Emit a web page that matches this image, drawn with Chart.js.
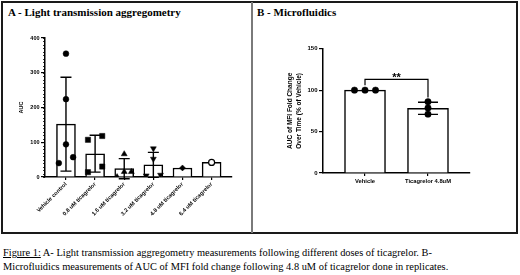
<!DOCTYPE html>
<html>
<head>
<meta charset="utf-8">
<script src="https://cdn.jsdelivr.net/npm/chart.js@4/dist/chart.umd.min.js"></script>
<style>
  body { margin: 0; background: #fff; width: 520px; height: 275px; overflow: hidden; position: relative; }
  #frame { position: absolute; left: 1px; top: 1px; width: 517px; height: 233px; border: 2px solid #1a1a1a; box-sizing: border-box; }
  #divider { position: absolute; left: 251px; top: 2px; width: 2px; height: 231px; background: #7a7a7a; }
  .ptitle { position: absolute; top: 6px; font: bold 11px "Liberation Serif", "Times New Roman", serif; color: #000; white-space: nowrap; }
  #chartA { position: absolute; left: 4px; top: 24px; }
  #chartB { position: absolute; left: 256px; top: 24px; }
  #caption { position: absolute; left: 3px; top: 246px; font: 10.4px/14px "Liberation Serif", "Times New Roman", serif; color: #000; white-space: nowrap; }
  #caption u { text-decoration: underline; }
</style>
</head>
<body>
<div id="frame"></div>
<div id="divider"></div>
<div class="ptitle" style="left:8px">A - Light transmission aggregometry</div>
<div class="ptitle" style="left:257px">B - Microfluidics</div>
<canvas id="chartA" width="246" height="208"></canvas>
<canvas id="chartB" width="258" height="208"></canvas>
<div id="caption"><u>Figure 1:</u> A- Light transmission aggregometry measurements following different doses of ticagrelor. B-<br>Microfluidics measurements of AUC of MFI fold change following 4.8 uM of ticagrelor done in replicates.</div>

<script>
// ---- panel A data (light transmission aggregometry, AUC)
const doseLabels = ['Vehicle control', '0.8 uM ticagrelor', '1.6 uM ticagrelor', '3.2 uM ticagrelor', '4.8 uM ticagrelor', '6.4 uM ticagrelor'];
const ltaMeans = [152, 67, 24, 35, 26, 42];
const ltaSD = [135, 53, 29, 36, 0, 0];
const ltaPoints = [
    [355, 224, 94, 57, 40],
    [107, 118, 30, 14],
    [66, 15, 15, 0],
    [82, 52, 4, 6],
    [26],
    [42]
];
const ltaTicks = [0, 100, 200, 300, 400];

// ---- panel B data (microfluidics, % of vehicle)
const flowLabels = ['Vehicle', 'Ticagrelor 4.8uM'];
const flowMeans = [100, 78];
const flowSD = [0, 7.3];
const flowPoints = [
    [100, 100, 100],
    [86, 78.5, 71]
];
const flowTicks = [0, 50, 100, 150];
const sigText = '**';
const sigBracket = [113, 106, 91];   // bracket top, left leg end, right leg end

// marker look per group in panel A
const ltaMarkers = [
    {pointStyle: 'circle', pointRadius: 2.9, fill: '#000', rot: 0},
    {pointStyle: 'rect', pointRadius: 3.7, fill: '#000', rot: 0},
    {pointStyle: 'triangle', pointRadius: 3.4, fill: '#000', rot: 0},
    {pointStyle: 'triangle', pointRadius: 3.4, fill: '#000', rot: 180},
    {pointStyle: 'rectRot', pointRadius: 3.0, fill: '#000', rot: 0},
    {pointStyle: 'circle', pointRadius: 3.0, fill: '#fff', rot: 0}
];

const tickFont = {family: 'Liberation Sans, Arial, sans-serif', weight: 'bold'};

// spread points that would overlap sideways, like a scatter dot plot
function spreadX(values, center, near, step) {
    const order = values.map((v, i) => i).sort((a, b) => values[a] - values[b]);
    const xs = new Array(values.length);
    let group = [];
    const flush = () => {
        const n = group.length;
        group.forEach((idx, k) => {
            xs[idx] = center + (2 * k - (n - 1)) * step / (n % 2 === 0 ? 1 : 2);
        });
        group = [];
    };
    order.forEach(i => {
        if (group.length && values[i] - values[group[group.length - 1]] > near) flush();
        group.push(i);
    });
    flush();
    return xs;
}

// error bars (mean +/- SD) drawn right after the bar dataset
const errorBars = {
    id: 'errorBars',
    afterDatasetDraw(chart, args, opts) {
        if (args.index !== 0) return;
        const {ctx, scales: {x, y}} = chart;
        ctx.save();
        ctx.strokeStyle = '#000';
        ctx.lineWidth = opts.lineWidth;
        opts.means.forEach((m, i) => {
            const sd = opts.sd[i];
            if (!sd) return;
            const px = x.getPixelForValue(i);
            const top = y.getPixelForValue(m + sd);
            const bot = y.getPixelForValue(m - sd);
            ctx.beginPath();
            ctx.moveTo(px, top); ctx.lineTo(px, bot);
            ctx.moveTo(px - opts.cap, top); ctx.lineTo(px + opts.cap, top);
            ctx.moveTo(px - opts.cap, bot); ctx.lineTo(px + opts.cap, bot);
            ctx.stroke();
        });
        ctx.restore();
    }
};

// small minor ticks on the left axis of panel A
const minorTicks = {
    id: 'minorTicks',
    afterDraw(chart, args, opts) {
        if (!opts.step) return;
        const {ctx, scales: {y}} = chart;
        const left = chart.chartArea.left;
        ctx.save();
        ctx.strokeStyle = '#000';
        ctx.lineWidth = 0.8;
        ctx.beginPath();
        for (let v = y.min; v <= y.max; v += opts.step) {
            const py = Math.round(y.getPixelForValue(v)) + 0.5;
            ctx.moveTo(left - opts.len, py);
            ctx.lineTo(left, py);
        }
        ctx.stroke();
        ctx.restore();
    }
};

// significance bracket for panel B
const sigPlugin = {
    id: 'sig',
    afterDraw(chart, args, opts) {
        if (!opts.text) return;
        const {ctx, scales: {x, y}} = chart;
        const x0 = x.getPixelForValue(0), x1 = x.getPixelForValue(1);
        const yt = y.getPixelForValue(opts.bracket[0]);
        ctx.save();
        ctx.strokeStyle = '#000';
        ctx.lineWidth = 1.2;
        ctx.beginPath();
        ctx.moveTo(x0, y.getPixelForValue(opts.bracket[1]));
        ctx.lineTo(x0, yt);
        ctx.lineTo(x1, yt);
        ctx.lineTo(x1, y.getPixelForValue(opts.bracket[2]));
        ctx.stroke();
        ctx.fillStyle = '#000';
        ctx.font = 'bold 11px Liberation Sans, Arial, sans-serif';
        ctx.textAlign = 'center';
        ctx.textBaseline = 'alphabetic';
        ctx.fillText(opts.text, (x0 + x1) / 2, yt + 2);
        ctx.restore();
    }
};

function axisX(labels, min, max, fontSize, rotation, pad, height) {
    return {
        type: 'linear',
        min: min,
        max: max,
        offset: false,
        afterBuildTicks: s => { s.ticks = labels.map((l, i) => ({value: i})); },
        afterFit: s => { s.height = height; },
        grid: {display: true, drawOnChartArea: false, offset: false, color: '#000', lineWidth: 1.2, tickLength: 3},
        border: {display: true, color: '#000', width: 1.5},
        ticks: {
            autoSkip: false,
            minRotation: rotation,
            maxRotation: rotation,
            padding: pad,
            color: '#000',
            font: Object.assign({size: fontSize}, tickFont),
            callback: v => labels[v]
        }
    };
}

function axisY(tickVals, width, fontSize, title, titleSize, titlePad, lineHeight) {
    return {
        min: tickVals[0],
        max: tickVals[tickVals.length - 1],
        afterBuildTicks: s => { s.ticks = tickVals.map(v => ({value: v})); },
        afterFit: s => { s.width = width; },
        grid: {display: true, drawOnChartArea: false, color: '#000', lineWidth: 1.2, tickLength: 4},
        border: {display: true, color: '#000', width: 1.5},
        ticks: {padding: 1.5, color: '#000', font: Object.assign({size: fontSize}, tickFont)},
        title: {
            display: true,
            text: title,
            color: '#000',
            padding: {top: titlePad, bottom: 0},
            font: Object.assign({size: titleSize, lineHeight: lineHeight}, tickFont)
        }
    };
}

// ---- panel A
const ltaScatter = ltaPoints.map((vals, i) => {
    const xs = spreadX(vals, i, 20, 0.245);
    const mk = ltaMarkers[i];
    return {
        type: 'scatter',
        order: 1,
        data: vals.map((v, k) => ({x: xs[k], y: v})),
        pointStyle: mk.pointStyle,
        pointRadius: mk.pointRadius,
        pointRotation: mk.rot,
        backgroundColor: mk.fill,
        borderColor: '#000',
        borderWidth: mk.fill === '#fff' ? 1.2 : 0.5
    };
});

new Chart(document.getElementById('chartA'), {
    type: 'bar',
    data: {
        datasets: [{
            order: 2,
            data: ltaMeans.map((v, i) => ({x: i, y: v})),
            backgroundColor: '#fff',
            borderColor: '#000',
            borderWidth: 1.5,
            barThickness: 19
        }].concat(ltaScatter)
    },
    options: {
        responsive: false,
        animation: false,
        events: [],
        layout: {padding: {left: 0, top: 14, right: 18, bottom: 0}},
        plugins: {
            legend: {display: false},
            tooltip: {enabled: false},
            errorBars: {means: ltaMeans, sd: ltaSD, cap: 5.5, lineWidth: 1.4},
            minorTicks: {step: 10, len: 2},
            sig: {}
        },
        scales: {
            x: axisX(doseLabels, -0.72, 5.7, 5.6, 45, 1, 55),
            y: axisY(ltaTicks, 41, 5.5, 'AUC', 5.5, 14, 1.2)
        }
    },
    plugins: [errorBars, minorTicks, sigPlugin]
});

// ---- panel B
const flowScatter = flowPoints.map((vals, i) => {
    const xs = spreadX(vals, i, 3, 0.167);
    return {
        type: 'scatter',
        order: 1,
        data: vals.map((v, k) => ({x: xs[k], y: v})),
        pointStyle: 'circle',
        pointRadius: 3.2,
        backgroundColor: '#000',
        borderColor: '#000',
        borderWidth: 0.5
    };
});

new Chart(document.getElementById('chartB'), {
    type: 'bar',
    data: {
        datasets: [{
            order: 2,
            data: flowMeans.map((v, i) => ({x: i, y: v})),
            backgroundColor: '#fff',
            borderColor: '#000',
            borderWidth: 1.5,
            barThickness: 41
        }].concat(flowScatter)
    },
    options: {
        responsive: false,
        animation: false,
        events: [],
        layout: {padding: {left: 0, top: 24.7, right: 44, bottom: 0}},
        plugins: {
            legend: {display: false},
            tooltip: {enabled: false},
            errorBars: {means: flowMeans, sd: flowSD, cap: 10, lineWidth: 1.4},
            minorTicks: {},
            sig: {text: sigText, bracket: sigBracket}
        },
        scales: {
            x: axisX(flowLabels, -0.667, 1.667, 5.8, 0, 1.5, 59),
            y: axisY(flowTicks, 67, 6, ['AUC of MFI Fold Change', 'Over Time (% of Vehicle)'], 6.5, 29.5, 1.4)
        }
    },
    plugins: [errorBars, minorTicks, sigPlugin]
});
</script>
</body>
</html>
